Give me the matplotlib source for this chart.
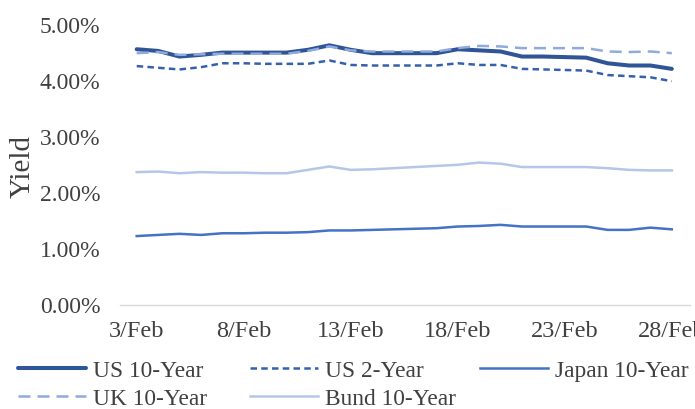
import numpy as np
import matplotlib
matplotlib.use("Agg")
import matplotlib.pyplot as plt
from matplotlib.ticker import FuncFormatter

plt.rcParams['font.family'] = ['Liberation Serif', 'DejaVu Serif']

# Calendar days of February
days = np.arange(3, 29)
tick_days = [3, 8, 13, 18, 23, 28]
tick_labels = ["3/Feb", "8/Feb", "13/Feb", "18/Feb", "23/Feb", "28/Feb"]

# Yields in percent
us10 = [4.55, 4.52, 4.42, 4.45, 4.49, 4.49, 4.49, 4.49, 4.54, 4.62, 4.54, 4.48, 4.48,
        4.48, 4.48, 4.55, 4.53, 4.51, 4.42, 4.42, 4.41, 4.40, 4.30, 4.26, 4.26, 4.20]
us2 = [4.25, 4.22, 4.19, 4.23, 4.30, 4.30, 4.29, 4.29, 4.29, 4.35, 4.27, 4.26, 4.26,
       4.26, 4.26, 4.30, 4.27, 4.27, 4.20, 4.19, 4.18, 4.17, 4.09, 4.07, 4.05, 3.98]
japan10 = [1.22, 1.24, 1.26, 1.24, 1.27, 1.27, 1.28, 1.28, 1.29, 1.32, 1.32, 1.33, 1.34,
           1.35, 1.36, 1.39, 1.40, 1.42, 1.39, 1.39, 1.39, 1.39, 1.33, 1.33, 1.37, 1.34]
uk10 = [4.48, 4.50, 4.45, 4.46, 4.47, 4.47, 4.47, 4.47, 4.52, 4.60, 4.53, 4.51, 4.51,
        4.51, 4.51, 4.57, 4.61, 4.60, 4.57, 4.57, 4.57, 4.57, 4.51, 4.50, 4.51, 4.48]
bund10 = [2.36, 2.37, 2.34, 2.36, 2.35, 2.35, 2.34, 2.34, 2.40, 2.46, 2.40, 2.41, 2.43,
          2.45, 2.47, 2.49, 2.53, 2.51, 2.45, 2.45, 2.45, 2.45, 2.43, 2.40, 2.39, 2.39]

W, H = 695, 410
fig = plt.figure(figsize=(W / 100, H / 100), dpi=100)
ax = fig.add_axes([120 / W, 1 - 305.5 / H, (690 - 120) / W, (305.5 - 25) / H])

l_us10, = ax.plot(days, us10, color="#2F5597", lw=2.9, solid_capstyle="round",
                  solid_joinstyle="round", label="US 10-Year")
l_us2, = ax.plot(days, us2, color="#3560B0", lw=1.8, dashes=(2.6, 1.7),
                 label="US 2-Year")
l_jp, = ax.plot(days, japan10, color="#4472C4", lw=1.8, label="Japan 10-Year")
l_uk, = ax.plot(days, uk10, color="#8FAADC", lw=1.8, dashes=(4.8, 2.8),
                label="UK 10-Year")
l_bund, = ax.plot(days, bund10, color="#B4C7E7", lw=1.8, label="Bund 10-Year")

ax.set_xlim(3 - 0.78, 28.85)
ax.set_ylim(0, 5)
ax.set_yticks([0, 1, 2, 3, 4, 5])
ax.yaxis.set_major_formatter(FuncFormatter(lambda v, p: f"{v:.2f}%"))
ax.set_xticks(tick_days)
ax.set_xticklabels(tick_labels)

text_color = "#404040"
ax.tick_params(axis="y", length=0, pad=14, labelsize=17, labelcolor=text_color)
ax.tick_params(axis="x", length=0, pad=11, labelsize=17.5, labelcolor=text_color)

for side in ("top", "right", "left"):
    ax.spines[side].set_visible(False)
ax.spines["bottom"].set_color("#D9D9D9")
ax.spines["bottom"].set_linewidth(1.0)

fig.text(23 / W, 1 - 166 / H, "Yield", rotation=90, ha="center", va="center",
         fontsize=21, color=text_color)

legend_kw = dict(frameon=False, fontsize=16.8, handlelength=2.9, handletextpad=0.3,
                 labelspacing=0.26, borderpad=0, borderaxespad=0, loc="upper left",
                 labelcolor=text_color)
top = 1 - 361 / H
leg1 = fig.legend([l_us10, l_uk], ["US 10-Year", "UK 10-Year"],
                  bbox_to_anchor=(18 / W, top), **legend_kw)
leg2 = fig.legend([l_us2, l_bund], ["US 2-Year", "Bund 10-Year"],
                  bbox_to_anchor=(250 / W, top), **legend_kw)
leg3 = fig.legend([l_jp], ["Japan 10-Year"],
                  bbox_to_anchor=(480 / W, top), **legend_kw)

fig.savefig("out.png", dpi=100)
